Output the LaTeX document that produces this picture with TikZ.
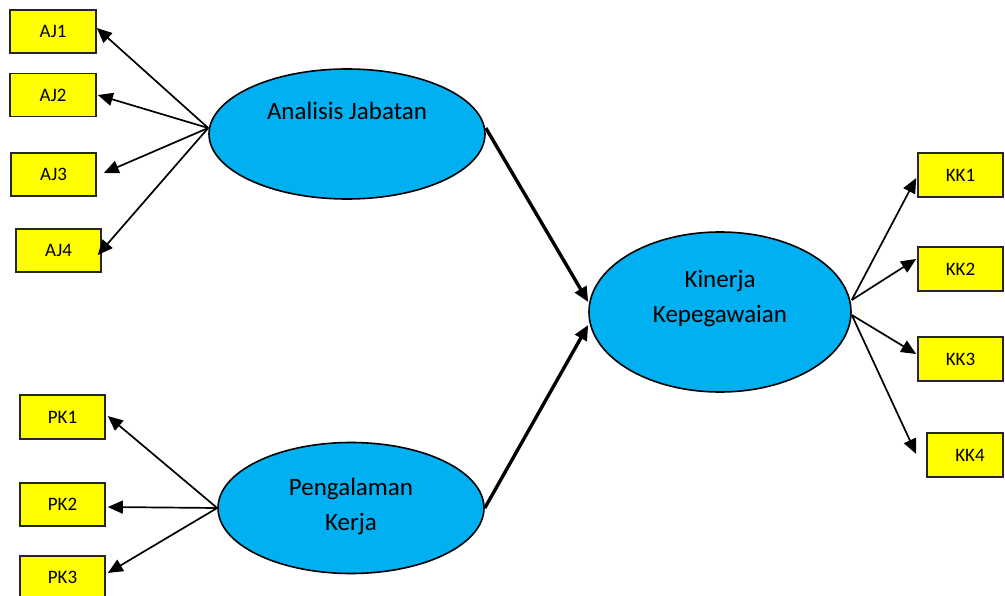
\documentclass[tikz,border=0pt]{standalone}
\usepackage{fontspec}
\setmainfont{Carlito}
\usetikzlibrary{shapes.geometric,arrows.meta}
\definecolor{latentblue}{HTML}{00B0F0}
\definecolor{itemyellow}{HTML}{FFFF00}
\definecolor{boxedge}{HTML}{262626}
\tikzset{
  itembox/.style={draw=boxedge, line width=1.6pt, fill=itemyellow, rectangle,
    minimum width=86pt, minimum height=43pt, inner sep=0pt,
    font=\fontsize{19}{22}\selectfont},
  latent/.style={draw=black, line width=1.6pt, fill=latentblue, ellipse, inner sep=0pt},
  latentlabel/.style={align=center, font=\fontsize{25}{35}\selectfont, inner sep=0pt},
  loading/.style={line width=1.7pt, -{Triangle[length=15pt,width=13pt]}},
  path/.style={line width=3.4pt, -{Triangle[length=15pt,width=13pt]}}
}
\begin{document}
\begin{tikzpicture}[x=1pt,y=-1pt]
  \useasboundingbox (0,0) rectangle (1005,596);
  \clip (0,0) rectangle (1005,596);

  % latent variables
  \node[latent, minimum width=276pt, minimum height=130pt] (AJ) at (347,134) {};
  \node[latentlabel, anchor=base] (AJtext) at (347,120) {Analisis Jabatan};
  \node[latent, minimum width=266pt, minimum height=131pt] (PG) at (351,508) {};
  \node[latentlabel] (PGtext) at (351,506) {Pengalaman\\Kerja};
  \node[latent, minimum width=262pt, minimum height=160pt] (KP) at (720,312) {};
  \node[latentlabel] (KPtext) at (720,299) {Kinerja\\Kepegawaian};

  % indicators
  \node[itembox] (aj1) at (53,31.5) {AJ1};
  \node[itembox] (aj2) at (53,95) {AJ2};
  \node[itembox, minimum width=85pt] (aj3) at (53.5,174.5) {AJ3};
  \node[itembox, minimum width=85pt] (aj4) at (58.5,250.5) {AJ4};
  \node[itembox, minimum width=85pt, minimum height=44pt] (pk1) at (62.5,417) {PK1};
  \node[itembox, minimum width=85pt] (pk2) at (62.5,504.5) {PK2};
  \node[itembox, minimum width=85pt] (pk3) at (62.5,577.5) {PK3};
  \node[itembox, minimum width=85pt, minimum height=44pt] (kk1) at (960.5,175) {KK1};
  \node[itembox, minimum width=85pt, minimum height=44pt] (kk2) at (960.5,269) {KK2};
  \node[itembox, minimum width=85pt, minimum height=44pt] (kk3) at (960.5,359) {KK3};
  \node[itembox, minimum width=76pt, minimum height=44pt] (kk4) at (965,455) {\hspace*{10pt}KK4};

  % loadings of Analisis Jabatan
  \draw[loading] ([yshift=6pt]AJ.west) -- ([yshift=3.5pt]aj1.east);
  \draw[loading] ([yshift=6pt]AJ.west) -- ([xshift=1pt]aj2.east);
  \draw[loading] ([yshift=6pt]AJ.west) -- ([xshift=7pt,yshift=1.5pt]aj3.east);
  \draw[loading] ([yshift=6pt]AJ.west) -- ([xshift=-4pt,yshift=-4.5pt]aj4.east);

  % loadings of Pengalaman Kerja
  \draw[loading] (PG.west) -- ([xshift=2pt,yshift=1pt]pk1.east);
  \draw[loading] (PG.west) -- ([xshift=2pt,yshift=-2.5pt]pk2.east);
  \draw[loading] (PG.west) -- ([xshift=2pt,yshift=4.5pt]pk3.east);

  % loadings of Kinerja Kepegawaian
  \draw[loading] ([yshift=12pt]KP.east) -- ([xshift=-1pt,yshift=-3pt]kk1.west);
  \draw[loading] ([yshift=12pt]KP.east) -- ([xshift=-1pt,yshift=10pt]kk2.west);
  \draw[loading] ([yshift=-3pt]KP.east) -- ([xshift=-1pt,yshift=5pt]kk3.west);
  \draw[loading] ([yshift=-3pt]KP.east) -- ([xshift=-10pt,yshift=1pt]kk4.west);

  % structural paths
  \draw[path] ([yshift=6pt]AJ.east) -- ([yshift=10pt]KP.west);
  \draw[path] (PG.east) -- ([yshift=-13pt]KP.west);
\end{tikzpicture}
\end{document}
